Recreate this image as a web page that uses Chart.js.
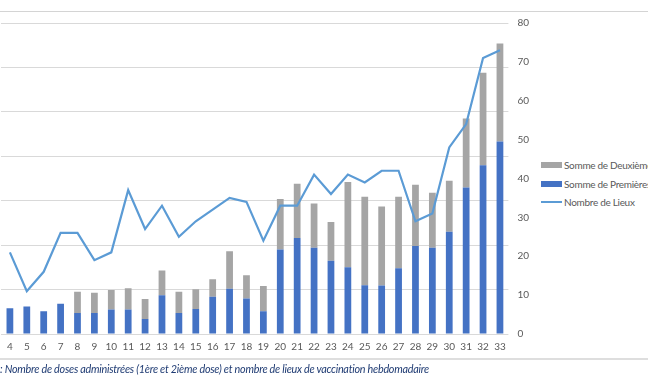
<!DOCTYPE html>
<html>
<head>
<meta charset="utf-8">
<script src="https://cdn.jsdelivr.net/npm/chart.js@4.4.0/dist/chart.umd.min.js"></script>
<style>
  html, body { margin: 0; padding: 0; background: #fff; }
  body { width: 648px; height: 389px; position: relative; overflow: hidden; font-family: Lato, sans-serif; }
  #frame-top { position: absolute; left: 0; top: 11px; width: 648px; height: 1px; background: #d4d4d4; }
  #frame-bottom { position: absolute; left: 0; top: 358px; width: 648px; height: 2px; background: #dedede; }
  #wrap { position: absolute; left: 0; top: 0; width: 538px; height: 389px; }
  #legend { position: absolute; left: 541px; top: 156px; white-space: nowrap; font-size: 10px; letter-spacing: -0.3px; color: #595959; }
  #legend div { height: 18.5px; display: flex; align-items: center; }
  #legend span.sw { display: inline-block; width: 21px; margin-right: 2px; }
  #caption { position: absolute; left: 0; top: 362px; font-style: italic; font-size: 10.8px; letter-spacing: -0.25px; color: #1f3b73; white-space: nowrap; }
</style>
</head>
<body>
<div id="frame-top"></div>
<div id="frame-bottom"></div>
<div id="wrap"><canvas id="chart"></canvas></div>
<div id="legend"></div>
<div id="caption">: Nombre de doses administrées (1ère et 2ième dose) et nombre de lieux de vaccination hebdomadaire</div>
<script>
    const weeks = ['4', '5', '6', '7', '8', '9', '10', '11', '12', '13', '14', '15', '16', '17', '18',
        '19', '20', '21', '22', '23', '24', '25', '26', '27', '28', '29', '30', '31', '32', '33'];

    // Doses (left axis, not visible in the crop)
    const premieresDoses = [58, 62, 51, 68, 47, 47, 55, 55, 34, 87, 47, 56, 84, 102, 80,
        51, 190, 216, 194, 165, 150, 110, 109, 148, 198, 194, 230, 330, 380, 433];
    const deuxiemesDoses = [0, 0, 0, 0, 48, 46, 44, 48, 45, 56, 48, 45, 39, 84, 52,
        57, 114, 122, 100, 87, 192, 199, 178, 161, 138, 124, 115, 155, 208, 221];

    // Vaccination sites (right axis)
    const nombreLieux = [21, 11, 16, 26, 26, 19, 21, 37, 27, 33, 25, 29, 32, 35, 34,
        24, 33, 33, 41, 36, 41, 39, 42, 42, 29, 31, 48, 54, 71, 73];

    const rightTicks = [0, 10, 20, 30, 40, 50, 60, 70, 80];

    const tickFont = {family: 'Lato', size: 10};
    const tickColor = '#595959';

    const chart = new Chart(document.getElementById('chart'), {
        data: {
            labels: weeks,
            datasets: [
                {
                    type: 'bar',
                    label: 'Somme de Premières doses',
                    data: premieresDoses,
                    backgroundColor: '#4472c4',
                    yAxisID: 'y',
                    order: 2
                },
                {
                    type: 'bar',
                    label: 'Somme de Deuxièmes doses',
                    data: deuxiemesDoses,
                    backgroundColor: '#a5a5a5',
                    yAxisID: 'y',
                    order: 2
                },
                {
                    type: 'line',
                    label: 'Nombre de Lieux',
                    data: nombreLieux,
                    borderColor: '#5b9bd5',
                    backgroundColor: '#5b9bd5',
                    borderWidth: 2.2,
                    pointRadius: 0,
                    tension: 0,
                    yAxisID: 'y1',
                    order: 1
                }
            ]
        },
        options: {
            responsive: true,
            maintainAspectRatio: false,
            animation: false,
            layout: {padding: {top: 23, bottom: 29, left: 0, right: 0}},
            datasets: {bar: {barPercentage: 0.4, categoryPercentage: 1}},
            plugins: {legend: {display: false}, tooltip: {enabled: false}},
            scales: {
                x: {
                    stacked: true,
                    grid: {display: false, drawTicks: false},
                    border: {display: false},
                    ticks: {font: tickFont, color: tickColor, padding: 7, maxRotation: 0, autoSkip: false}
                },
                y: {
                    stacked: true,
                    min: 0,
                    max: 700,
                    ticks: {display: false, stepSize: 100},
                    grid: {color: '#d9d9d9', drawTicks: false, lineWidth: 1},
                    border: {display: false}
                },
                y1: {
                    position: 'right',
                    min: 0,
                    max: 80,
                    afterBuildTicks: axis => { axis.ticks = rightTicks.map(v => ({value: v})); },
                    grid: {display: false, drawTicks: false},
                    border: {display: false},
                    ticks: {font: tickFont, color: tickColor, padding: 9}
                }
            }
        }
    });

    // Legend built from the chart datasets, in the original display order
    const legendOrder = [1, 0, 2];
    const legendEl = document.getElementById('legend');
    legendOrder.forEach(i => {
        const ds = chart.data.datasets[i];
        const row = document.createElement('div');
        const sw = document.createElement('span');
        sw.className = 'sw';
        sw.style.height = ds.type === 'line' ? '2px' : '6px';
        sw.style.background = ds.type === 'line' ? ds.borderColor : ds.backgroundColor;
        row.appendChild(sw);
        row.appendChild(document.createTextNode(ds.label));
        legendEl.appendChild(row);
    });
</script>
</body>
</html>
